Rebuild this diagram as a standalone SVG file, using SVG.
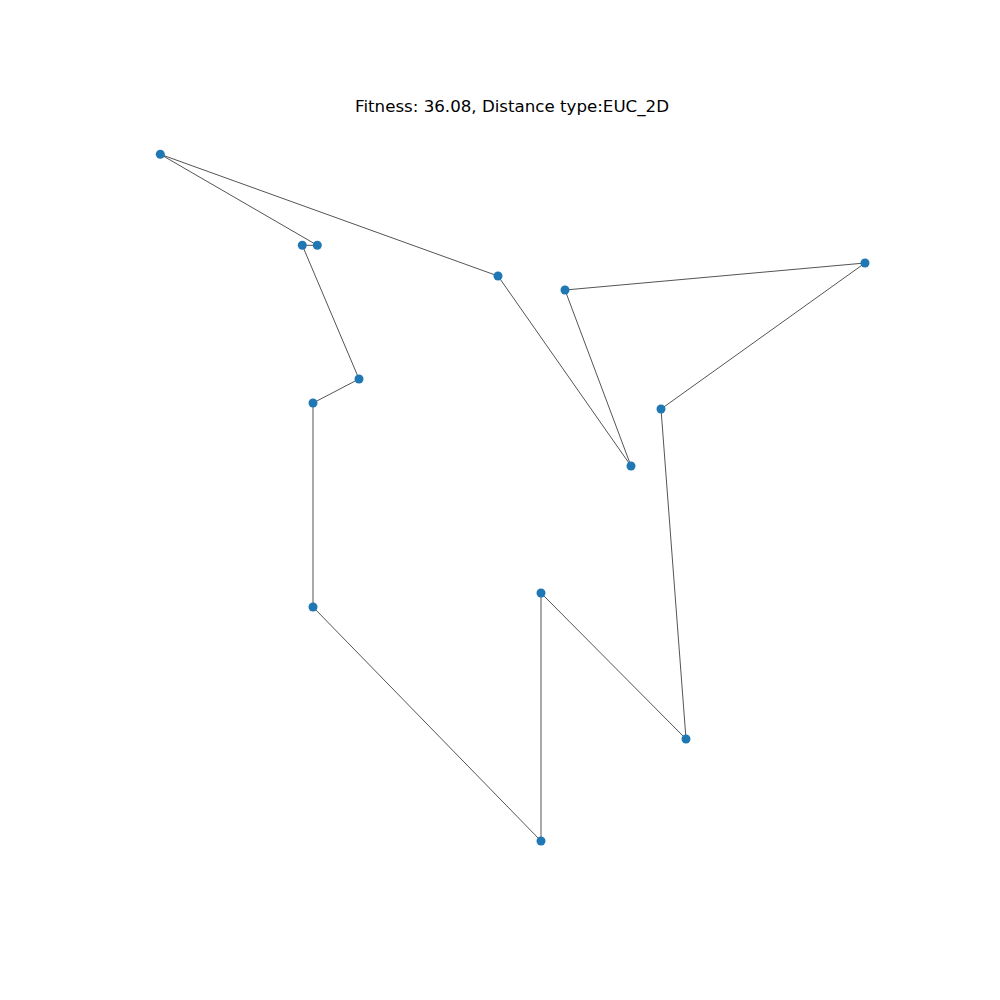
<svg xmlns="http://www.w3.org/2000/svg" width="1000" height="1000" viewBox="0 0 1000 1000">
<style>
.e{stroke:#000;stroke-width:0.8;stroke-opacity:0.85;fill:none}
.n{fill:#1f77b4}
.t{font-family:"DejaVu Sans",sans-serif;font-size:16.67px;fill:#000}
</style>
<rect width="1000" height="1000" fill="#fff"/>
<text class="t" x="512" y="112" text-anchor="middle">Fitness: 36.08, Distance type:EUC_2D</text>
<g id="edges">
<line class="e" x1="160.3" y1="154.3" x2="317.3" y2="245.3"/>
<line class="e" x1="160.3" y1="154.3" x2="498" y2="276"/>
<line class="e" x1="317.3" y1="245.3" x2="302.3" y2="245.3"/>
<line class="e" x1="302.3" y1="245.3" x2="359" y2="379"/>
<line class="e" x1="359" y1="379" x2="313" y2="403"/>
<line class="e" x1="313" y1="403" x2="313" y2="607"/>
<line class="e" x1="313" y1="607" x2="541" y2="841"/>
<line class="e" x1="541" y1="841" x2="541" y2="593"/>
<line class="e" x1="541" y1="593" x2="686" y2="739"/>
<line class="e" x1="686" y1="739" x2="661" y2="409"/>
<line class="e" x1="661" y1="409" x2="865" y2="263"/>
<line class="e" x1="865" y1="263" x2="565" y2="290"/>
<line class="e" x1="565" y1="290" x2="631" y2="466"/>
<line class="e" x1="631" y1="466" x2="498" y2="276"/>
</g>
<g id="n1"><circle class="n" cx="160.3" cy="154.3" r="4.5"/></g>
<g id="n2"><circle class="n" cx="302.3" cy="245.3" r="4.5"/></g>
<g id="n3"><circle class="n" cx="317.3" cy="245.3" r="4.5"/></g>
<g id="n4"><circle class="n" cx="498" cy="276" r="4.5"/></g>
<g id="n5"><circle class="n" cx="565" cy="290" r="4.5"/></g>
<g id="n6"><circle class="n" cx="865" cy="263" r="4.5"/></g>
<g id="n7"><circle class="n" cx="359" cy="379" r="4.5"/></g>
<g id="n8"><circle class="n" cx="313" cy="403" r="4.5"/></g>
<g id="n9"><circle class="n" cx="661" cy="409" r="4.5"/></g>
<g id="n10"><circle class="n" cx="631" cy="466" r="4.5"/></g>
<g id="n11"><circle class="n" cx="541" cy="593" r="4.5"/></g>
<g id="n12"><circle class="n" cx="313" cy="607" r="4.5"/></g>
<g id="n13"><circle class="n" cx="686" cy="739" r="4.5"/></g>
<g id="n14"><circle class="n" cx="541" cy="841" r="4.5"/></g>
</svg>
